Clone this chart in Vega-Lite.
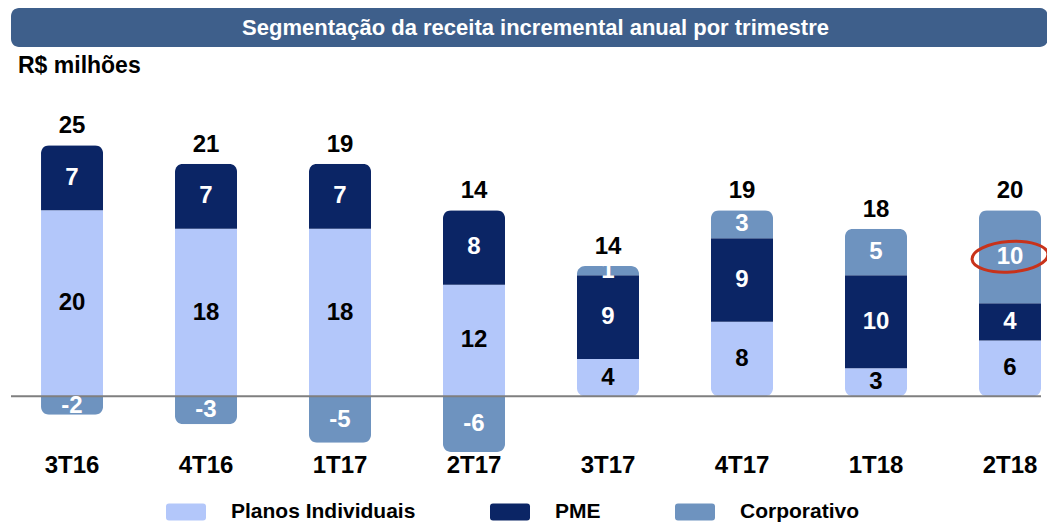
{
  "$schema": "https://vega.github.io/schema/vega-lite/v6.json",
  "padding": {"left": 10, "top": 8, "right": 0, "bottom": 0},
  "background": "white",
  "spacing": 8,
  "config": {
    "font": "Liberation Sans",
    "view": {"stroke": null},
    "axis": {"labelFont": "Liberation Sans", "titleFont": "Liberation Sans"},
    "legend": {"labelFont": "Liberation Sans"}
  },
  "datasets": {
    "segs": [
      {"quarter": "3T16", "segment": "Planos Individuais", "rank": 1, "amount": 20},
      {"quarter": "3T16", "segment": "PME", "rank": 2, "amount": 7},
      {"quarter": "3T16", "segment": "Corporativo", "rank": 3, "amount": -2},
      {"quarter": "4T16", "segment": "Planos Individuais", "rank": 1, "amount": 18},
      {"quarter": "4T16", "segment": "PME", "rank": 2, "amount": 7},
      {"quarter": "4T16", "segment": "Corporativo", "rank": 3, "amount": -3},
      {"quarter": "1T17", "segment": "Planos Individuais", "rank": 1, "amount": 18},
      {"quarter": "1T17", "segment": "PME", "rank": 2, "amount": 7},
      {"quarter": "1T17", "segment": "Corporativo", "rank": 3, "amount": -5},
      {"quarter": "2T17", "segment": "Planos Individuais", "rank": 1, "amount": 12},
      {"quarter": "2T17", "segment": "PME", "rank": 2, "amount": 8},
      {"quarter": "2T17", "segment": "Corporativo", "rank": 3, "amount": -6},
      {"quarter": "3T17", "segment": "Planos Individuais", "rank": 1, "amount": 4},
      {"quarter": "3T17", "segment": "PME", "rank": 2, "amount": 9},
      {"quarter": "3T17", "segment": "Corporativo", "rank": 3, "amount": 1},
      {"quarter": "4T17", "segment": "Planos Individuais", "rank": 1, "amount": 8},
      {"quarter": "4T17", "segment": "PME", "rank": 2, "amount": 9},
      {"quarter": "4T17", "segment": "Corporativo", "rank": 3, "amount": 3},
      {"quarter": "1T18", "segment": "Planos Individuais", "rank": 1, "amount": 3},
      {"quarter": "1T18", "segment": "PME", "rank": 2, "amount": 10},
      {"quarter": "1T18", "segment": "Corporativo", "rank": 3, "amount": 5},
      {"quarter": "2T18", "segment": "Planos Individuais", "rank": 1, "amount": 6},
      {"quarter": "2T18", "segment": "PME", "rank": 2, "amount": 4},
      {"quarter": "2T18", "segment": "Corporativo", "rank": 3, "amount": 10}
    ],
    "totals": [
      {"quarter": "3T16", "total": 25},
      {"quarter": "4T16", "total": 21},
      {"quarter": "1T17", "total": 19},
      {"quarter": "2T17", "total": 14},
      {"quarter": "3T17", "total": 14},
      {"quarter": "4T17", "total": 19},
      {"quarter": "1T18", "total": 18},
      {"quarter": "2T18", "total": 20}
    ],
    "banner": [
      {"t": "Segmentação da receita incremental anual por trimestre"}
    ]
  },
  "vconcat": [
    {
      "width": 1037,
      "height": 39,
      "view": {"fill": "#3E5F8B", "stroke": null, "cornerRadius": 8},
      "data": {"name": "banner"},
      "mark": {"type": "text", "font": "Liberation Sans", "fontSize": 22, "fontWeight": "bold", "color": "#FFFFFF", "dx": 6},
      "encoding": {"text": {"field": "t"}}
    },
    {
      "width": 1030,
      "height": 359,
      "title": {
        "text": "R$ milhões",
        "anchor": "start",
        "frame": "bounds",
        "font": "Liberation Sans",
        "fontSize": 23,
        "fontWeight": "bold",
        "color": "#000000",
        "offset": 16,
        "dx": 8
      },
      "data": {"name": "segs"},
      "encoding": {
        "x": {
          "field": "quarter",
          "type": "nominal",
          "sort": ["3T16", "4T16", "1T17", "2T17", "3T17", "4T17", "1T18", "2T18"],
          "scale": {"paddingInner": 0.537, "paddingOuter": 0.112, "align": 1},
          "axis": {
            "title": null,
            "orient": "bottom",
            "ticks": false,
            "domain": false,
            "labelAngle": 0,
            "labelFontSize": 24,
            "labelFontWeight": "bold",
            "labelColor": "#000000",
            "labelPadding": 0
          }
        }
      },
      "layer": [
        {
          "mark": {"type": "bar", "cornerRadius": 8},
          "encoding": {
            "y": {
              "field": "amount",
              "type": "quantitative",
              "stack": "zero",
              "scale": {"domain": [-6.1, 32.5], "nice": false, "zero": true},
              "axis": null
            },
            "order": {"field": "rank", "type": "quantitative", "sort": "ascending"},
            "color": {
              "field": "segment",
              "type": "nominal",
              "scale": {
                "domain": ["Planos Individuais", "PME", "Corporativo"],
                "range": ["#B3C7FA", "#0B2565", "#6E93BF"]
              },
              "legend": {
                "title": null,
                "orient": "none",
                "legendX": 155,
                "legendY": 484,
                "direction": "horizontal",
                "columns": 3,
                "columnPadding": 74,
                "symbolType": "M-0.85,-0.42L0.85,-0.42Q1,-0.42 1,-0.27L1,0.27Q1,0.42 0.85,0.42L-0.85,0.42Q-1,0.42 -1,0.27L-1,-0.27Q-1,-0.42 -0.85,-0.42Z",
                "symbolSize": 1600,
                "symbolStrokeWidth": 0,
                "symbolOpacity": 1,
                "labelFontSize": 21,
                "labelFontWeight": "bold",
                "labelColor": "#000000",
                "labelOffset": 25,
                "labelLimit": 400
              }
            }
          }
        },
        {
          "data": {"values": [{}]},
          "mark": {"type": "rule", "color": "#7F7F7F", "strokeWidth": 2},
          "encoding": {"y": {"datum": 0, "type": "quantitative"}, "x": null}
        },
        {
          "transform": [
            {"stack": "amount", "groupby": ["quarter"], "sort": [{"field": "rank", "order": "ascending"}], "as": ["v0", "v1"]},
            {"fold": ["v0", "v1"], "as": ["k", "pos"]},
            {"aggregate": [{"op": "mean", "field": "pos", "as": "mid"}], "groupby": ["quarter", "segment", "amount"]}
          ],
          "layer": [
            {
              "mark": {"type": "text", "font": "Liberation Sans", "fontSize": 24, "fontWeight": "bold", "baseline": "middle"},
              "encoding": {
                "y": {"field": "mid", "type": "quantitative"},
                "text": {"field": "amount", "type": "nominal"},
                "color": {
                  "condition": {"test": "datum.segment == 'Planos Individuais'", "value": "#000000"},
                  "value": "#FFFFFF"
                }
              }
            },
            {
              "transform": [{"filter": "datum.quarter == '2T18' && datum.segment == 'Corporativo'"}],
              "mark": {
                "type": "point",
                "shape": "M-1,0A1,0.4 0 1,1 1,0A1,0.4 0 1,1 -1,0Z",
                "size": 5776,
                "filled": false,
                "stroke": "#C8321A",
                "strokeWidth": 3,
                "opacity": 1,
                "angle": -4
              },
              "encoding": {"y": {"field": "mid", "type": "quantitative"}}
            }
          ]
        },
        {
          "transform": [
            {"filter": "datum.amount > 0"},
            {"aggregate": [{"op": "sum", "field": "amount", "as": "top"}], "groupby": ["quarter"]},
            {"lookup": "quarter", "from": {"data": {"name": "totals"}, "key": "quarter", "fields": ["total"]}}
          ],
          "mark": {"type": "text", "font": "Liberation Sans", "fontSize": 24, "fontWeight": "bold", "baseline": "alphabetic", "dy": -12, "color": "#000000"},
          "encoding": {
            "y": {"field": "top", "type": "quantitative"},
            "text": {"field": "total", "type": "nominal"}
          }
        }
      ]
    }
  ]
}
